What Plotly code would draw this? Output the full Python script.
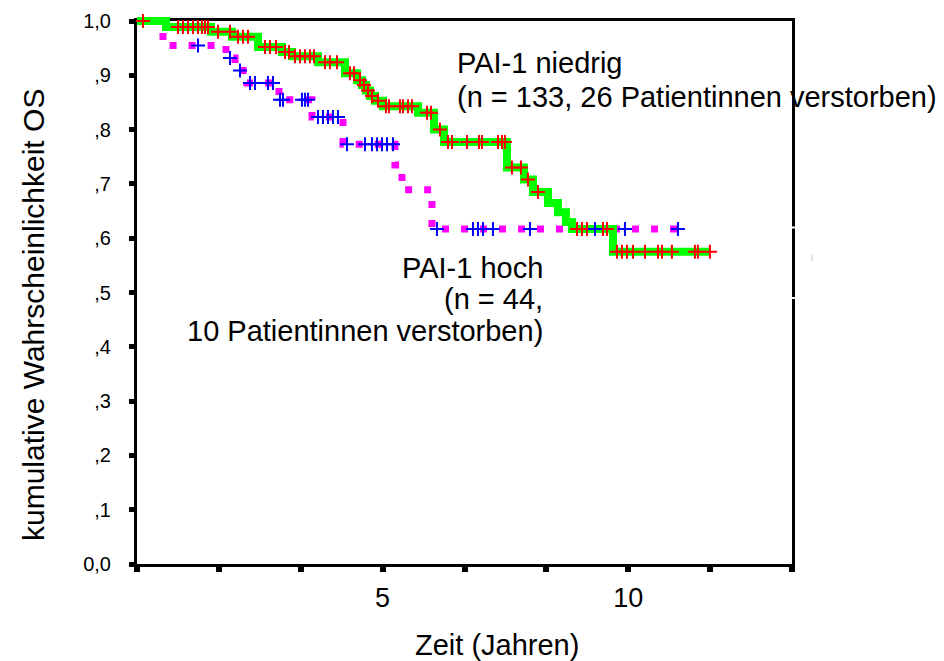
import numpy as np
import plotly.graph_objects as go

# ---- Kaplan-Meier data (time in years) ----
# PAI-1 niedrig (n = 133): event times and survival after each event
low_event_years = [0.590, 1.506, 1.934, 2.463, 2.951, 3.155, 3.684, 4.234, 4.478, 4.580,
                   4.661, 4.743, 4.845, 5.008, 5.720, 6.045, 6.249, 7.531, 7.877, 8.060,
                   8.366, 8.569, 8.732, 8.854, 9.689]
low_survival = [0.989, 0.980, 0.971, 0.952, 0.943, 0.935, 0.924, 0.904, 0.891, 0.882,
                0.872, 0.862, 0.853, 0.843, 0.831, 0.800, 0.777, 0.730, 0.708, 0.685,
                0.665, 0.648, 0.630, 0.617, 0.575]
low_censored_years = [0.122, 0.835, 0.936, 1.038, 1.140, 1.242, 1.323, 1.384, 1.445, 1.649,
                      1.893, 2.056, 2.158, 2.259, 2.605, 2.707, 2.829, 3.012, 3.094, 3.216,
                      3.318, 3.419, 3.521, 3.603, 3.827, 3.928, 4.071, 4.335, 4.417, 4.539,
                      4.620, 4.702, 4.783, 4.905, 5.068, 5.129, 5.353, 5.414, 5.516, 5.597,
                      5.903, 5.984, 6.167, 6.330, 6.412, 6.717, 6.961, 7.022, 7.348, 7.429,
                      7.490, 7.633, 7.816, 7.958, 8.162, 8.956, 9.058, 9.159, 9.485, 9.566,
                      9.770, 9.872, 9.974, 10.096, 10.340, 10.605, 10.686, 10.889, 11.357,
                      11.418, 11.663]

# PAI-1 hoch (n = 44)
high_event_years = [0.529, 1.812, 1.995, 2.239, 2.890, 3.562, 4.193, 5.251, 5.394, 6.004]
high_survival = [0.955, 0.932, 0.909, 0.886, 0.855, 0.823, 0.773, 0.735, 0.689, 0.617]
high_censored_years = [1.242, 1.893, 2.096, 2.300, 2.402, 2.666, 2.768, 2.911, 2.972, 3.358,
                       3.419, 3.481, 3.684, 3.786, 3.888, 3.989, 4.091, 4.274, 4.641, 4.783,
                       4.885, 4.987, 5.089, 5.211, 6.106, 6.839, 6.941, 7.043, 7.246, 7.999,
                       9.322, 9.933, 11.012]

# ---- axis ticks ----
x_tick_years = [0, 5 / 3, 10 / 3, 5, 20 / 3, 25 / 3, 10, 35 / 3, 40 / 3]
x_tick_text = ["", "", "", "5", "", "", "10", "", ""]
y_tick_values = [0.0, 0.1, 0.2, 0.3, 0.4, 0.5, 0.6, 0.7, 0.8, 0.9, 1.0]
y_tick_text = ["0,0", ",1", ",2", ",3", ",4", ",5", ",6", ",7", ",8", ",9", "1,0"]

X_MAX = 40 / 3

# ---- geometry (pixels) ----
W, H = 944, 661
ML, MR, MT, MB = 127, 142, 11, 87
PW, PH = W - ML - MR, H - MT - MB
PAD = 10  # extra room around the frame so thick lines are not clipped
FRAME_W, FRAME_H = PW - 2 * PAD, PH - 2 * PAD
x_pad = PAD * X_MAX / FRAME_W
y_pad = PAD / FRAME_H


def px(x):
    return (x - ML) / PW


def py(y):
    return (H - MB - y) / PH


def step_xy(events, surv, end):
    xs = [0.0] + list(events) + [end]
    ys = [1.0] + list(surv) + [surv[-1]]
    return xs, ys


def level_at(events, surv, times):
    ev = np.asarray(events)
    sv = np.concatenate([[1.0], np.asarray(surv)])
    idx = np.searchsorted(ev, np.asarray(times), side="right")
    return sv[idx]


low_x, low_y = step_xy(low_event_years, low_survival, max(low_censored_years))
high_x, high_y = step_xy(high_event_years, high_survival, max(high_censored_years))

fig = go.Figure()

# empty trace so the framed axis pair (ticks, labels, box) is drawn
fig.add_trace(go.Scatter(x=[None], y=[None], mode="lines", xaxis="x", yaxis="y",
                         showlegend=False, hoverinfo="skip"))

fig.add_trace(go.Scatter(
    x=high_x, y=high_y, mode="lines", line_shape="hv",
    line=dict(color="#ff00ff", width=7, dash="7px,12px"),
    xaxis="x2", yaxis="y2", showlegend=False, hoverinfo="skip"))
fig.add_trace(go.Scatter(
    x=low_x, y=low_y, mode="lines", line_shape="hv",
    line=dict(color="#00ff00", width=8),
    xaxis="x2", yaxis="y2", showlegend=False, hoverinfo="skip"))
fig.add_trace(go.Scatter(
    x=low_censored_years, y=level_at(low_event_years, low_survival, low_censored_years),
    mode="markers",
    marker=dict(symbol="cross-thin", size=10, line=dict(color="#ff0000", width=2)),
    xaxis="x2", yaxis="y2", showlegend=False, cliponaxis=False))
fig.add_trace(go.Scatter(
    x=high_censored_years, y=level_at(high_event_years, high_survival, high_censored_years),
    mode="markers",
    marker=dict(symbol="cross-thin", size=10, line=dict(color="#0000ff", width=2)),
    xaxis="x2", yaxis="y2", showlegend=False, cliponaxis=False))

FONT = "Liberation Sans, Arial, sans-serif"

axis_common = dict(showline=True, linewidth=3, linecolor="black", mirror=True,
                   showgrid=False, zeroline=False, ticks="outside", tickcolor="black",
                   automargin=False)

fig.update_layout(
    width=W, height=H,
    margin=dict(l=ML, r=MR, t=MT, b=MB, autoexpand=False),
    paper_bgcolor="white", plot_bgcolor="rgba(0,0,0,0)",
    font=dict(family=FONT, color="black"),
    showlegend=False,
    xaxis=dict(domain=[PAD / PW, 1 - PAD / PW], range=[0, X_MAX], anchor="y",
               tickvals=x_tick_years, ticktext=x_tick_text, ticklen=5, tickwidth=6,
               tickfont=dict(size=27), ticklabelstandoff=3, **axis_common),
    yaxis=dict(domain=[PAD / PH, 1 - PAD / PH], range=[0, 1], anchor="x",
               tickvals=y_tick_values, ticktext=y_tick_text, ticklen=5, tickwidth=5,
               tickfont=dict(size=20), ticklabelstandoff=14, **axis_common),
    xaxis2=dict(domain=[0, 1], range=[-x_pad, X_MAX + x_pad], anchor="y2", visible=False,
                automargin=False),
    yaxis2=dict(domain=[0, 1], range=[-y_pad, 1 + y_pad], anchor="x2", visible=False,
                automargin=False),
)

annotations = [
    dict(text="PAI-1 niedrig", x=px(455), y=py(63), xanchor="left", yanchor="middle", size=29),
    dict(text="(n = 133, 26 Patientinnen verstorben)", x=px(455), y=py(97),
         xanchor="left", yanchor="middle", size=29),
    dict(text="PAI-1 hoch", x=px(545), y=py(268), xanchor="right", yanchor="middle", size=29),
    dict(text="(n = 44,", x=px(545), y=py(299), xanchor="right", yanchor="middle", size=29),
    dict(text="10 Patientinnen verstorben)", x=px(545), y=py(331),
         xanchor="right", yanchor="middle", size=29),
    dict(text="Zeit (Jahren)", x=px(497), y=py(645), xanchor="center", yanchor="middle", size=29),
]
for a in annotations:
    fig.add_annotation(text=a["text"], x=a["x"], y=a["y"], xref="paper", yref="paper",
                       xanchor=a["xanchor"], yanchor=a["yanchor"], showarrow=False,
                       font=dict(size=a["size"], family=FONT, color="black"))
fig.add_annotation(text="kumulative Wahrscheinlichkeit OS", x=px(33), y=py(315),
                   xref="paper", yref="paper", textangle=-90, showarrow=False,
                   xanchor="center", yanchor="middle",
                   font=dict(size=30, family=FONT, color="black"))

# small breaks in the right-hand frame line
for gy in (227.5, 298):
    fig.add_shape(type="rect", xref="paper", yref="paper", layer="above",
                  x0=px(789), x1=px(796), y0=py(gy - 1), y1=py(gy + 1),
                  fillcolor="white", line=dict(width=0))
fig.add_shape(type="line", xref="paper", yref="paper", layer="above",
              x0=px(812), x1=px(812), y0=py(255), y1=py(261),
              line=dict(color="#c8c8c8", width=1))

fig.write_html("out.html")
